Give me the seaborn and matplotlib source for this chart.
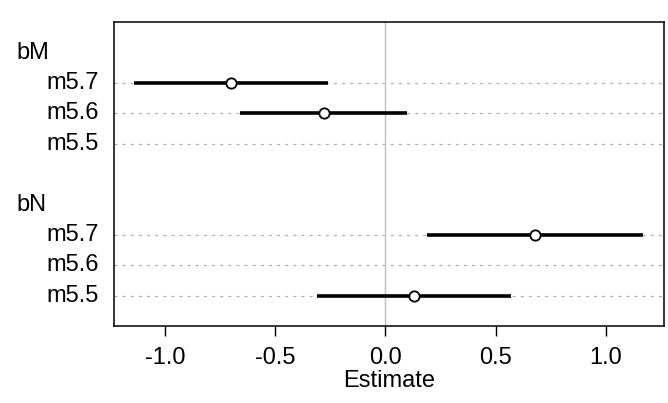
import numpy as np
import pandas as pd
import matplotlib
matplotlib.use("Agg")
import matplotlib.pyplot as plt
import seaborn as sns

# coefficient table (mean and interval per parameter / model)
params = ["bM", "bN"]
models = ["m5.7", "m5.6", "m5.5"]
means = {"bM": [-0.70, -0.28, np.nan], "bN": [0.68, np.nan, 0.13]}
lower = {"bM": [-1.14, -0.66, np.nan], "bN": [0.19, np.nan, -0.31]}
upper = {"bM": [-0.26, 0.10, np.nan], "bN": [1.17, np.nan, 0.57]}

rows = []
for i, p in enumerate(params):
    top = 9 - i * 5
    for j, m in enumerate(models):
        rows.append({"param": p, "model": m, "y": top - 1 - j,
                     "mean": means[p][j], "lo": lower[p][j], "hi": upper[p][j]})
df = pd.DataFrame(rows)

sns.set_style("white")
plt.rcParams["font.family"] = ["Liberation Sans", "DejaVu Sans"]
plt.rcParams["text.color"] = "black"
plt.rcParams["xtick.color"] = "black"
plt.rcParams["axes.labelcolor"] = "black"

fig = plt.figure(figsize=(6.68, 4.03), dpi=100)
ax = fig.add_axes([0.170, 0.191, 0.8236, 0.7537])

# dotted guide lines for each row
for y in df["y"]:
    ax.axhline(y, color="#b0b0b0", lw=0.9, ls=(0, (2.5, 4)), zorder=1)
ax.axvline(0, color="#bdbdbd", lw=1.0, zorder=1)

ok = df.dropna()
ax.hlines(ok["y"], ok["lo"], ok["hi"], color="black", lw=2.6, zorder=3)
sns.scatterplot(data=ok, x="mean", y="y", ax=ax, s=55, marker="o",
                facecolor="white", edgecolor="black", linewidth=1.3, zorder=4,
                legend=False)

lo_all = np.nanmin(df["lo"])
hi_all = np.nanmax(df["hi"])
pad = (hi_all - lo_all) * 0.04
ax.set_xlim(lo_all - pad, hi_all + pad)
ax.set_ylim(0, 10)

fs = 17
ax.set_xticks([-1.0, -0.5, 0.0, 0.5, 1.0])
ax.set_xticklabels(["-1.0", "-0.5", "0.0", "0.5", "1.0"], fontsize=fs)
ax.set_yticks([])
ax.tick_params(axis="x", direction="out", length=7, width=1, color="black",
               pad=8, bottom=True)
ax.set_xlabel("Estimate", fontsize=fs, labelpad=1)
ax.set_ylabel("")

trans = ax.get_yaxis_transform()
for i, p in enumerate(params):
    ax.text(-0.176, 9 - i * 5, p, transform=trans, ha="left", va="center",
            fontsize=fs, clip_on=False)
for _, r in df.iterrows():
    ax.text(-0.027, r["y"], r["model"], transform=trans, ha="right",
            va="center", fontsize=fs, clip_on=False)

for s in ax.spines.values():
    s.set_color("black")
    s.set_linewidth(1.1)

fig.savefig("out.png", dpi=100)
